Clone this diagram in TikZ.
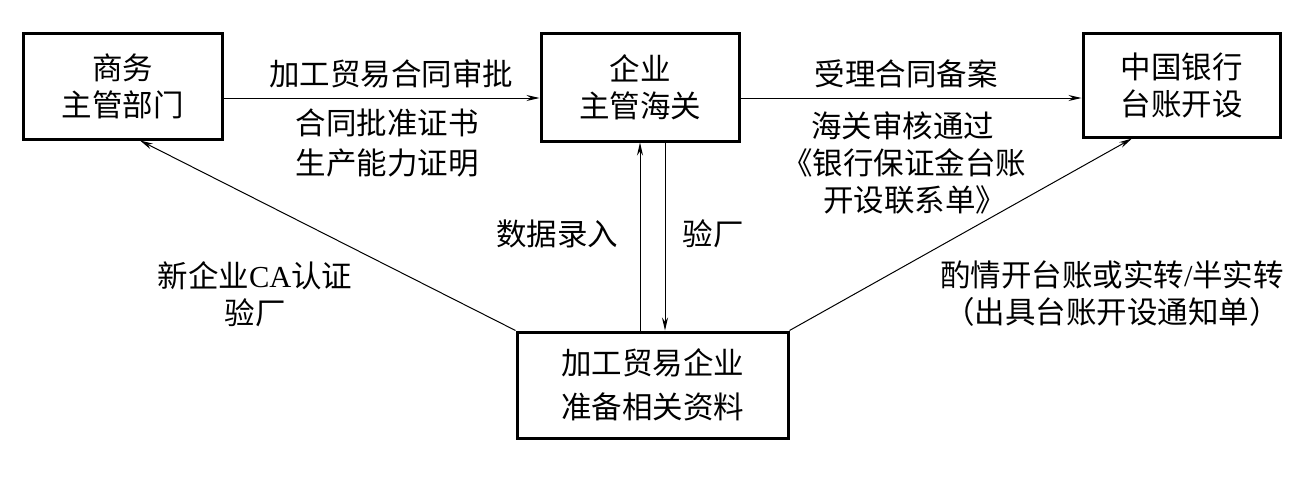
\documentclass[tikz,border=0pt]{standalone}
\usepackage{fontspec}
\newfontfamily\cjk{Noto Sans CJK SC}
\newfontfamily\lat{Liberation Serif}
\usetikzlibrary{arrows.meta}
\tikzset{
  box/.style={draw, line width=3pt, align=center, inner sep=0pt,
    font=\cjk\fontsize{30.5}{37}\selectfont},
  lbl/.style={align=center, inner sep=0pt, font=\cjk\fontsize{30.5}{37}\selectfont},
  arr/.style={line width=1pt, -{Stealth[length=13pt,width=6pt]}},
}
\begin{document}
\begin{tikzpicture}[x=1pt,y=-1pt]
\useasboundingbox[fill=white] (0,0) rectangle (1306,479);
\node[box, minimum width=199pt, minimum height=106pt] (b1) at (122.5,86) {商务\\主管部门};
\node[box, minimum width=198pt, minimum height=108pt] (b2) at (640,87) {企业\\主管海关};
\node[box, minimum width=197pt, minimum height=104pt] (b3) at (1181.5,85) {中国银行\\台账开设};
\node[box, minimum width=271pt, minimum height=106pt,
      font=\cjk\fontsize{30.5}{44}\selectfont] (b4) at (652.5,385) {加工贸易企业\\准备相关资料};
\coordinate (y1) at (0,98);
\coordinate (x1) at (640,0);
\coordinate (x2) at (665,0);
\coordinate (xa) at (140,0);
\coordinate (xb) at (1132,0);
\draw[arr] (b1.east |- y1) -- (b2.west |- y1);
\draw[arr] (b2.east |- y1) -- (b3.west |- y1);
\draw[arr] (b4.north -| x1) -- (b2.south -| x1);
\draw[arr] (b2.south -| x2) -- (b4.north -| x2);
\draw[arr] (b4.north west) -- (b1.south -| xa);
\draw[arr] (b4.north east) -- (b3.south -| xb);
\node[lbl] (l1) at (391,73.5) {加工贸易合同审批};
\node[lbl, font=\cjk\fontsize{30.5}{40}\selectfont] (l2) at (387,143) {合同批准证书\\生产能力证明};
\node[lbl] (l3) at (906,73.5) {受理合同备案};
\node[lbl, align=left, anchor=west] (l4) at (782,162.5) {\hspace{29pt}海关审核通过\\《银行保证金台账\\\hspace{41pt}开设联系单》};
\node[lbl] (l5) at (557,234) {数据录入};
\node[lbl] (l6) at (713,234) {验厂};
\node[lbl] (l7) at (255,294.5) {新企业{\lat CA}认证\\验厂};
\node[lbl] (l8) at (1112,294) {酌情开台账或实转{\lat /}半实转\\（出具台账开设通知单）};
\end{tikzpicture}
\end{document}
